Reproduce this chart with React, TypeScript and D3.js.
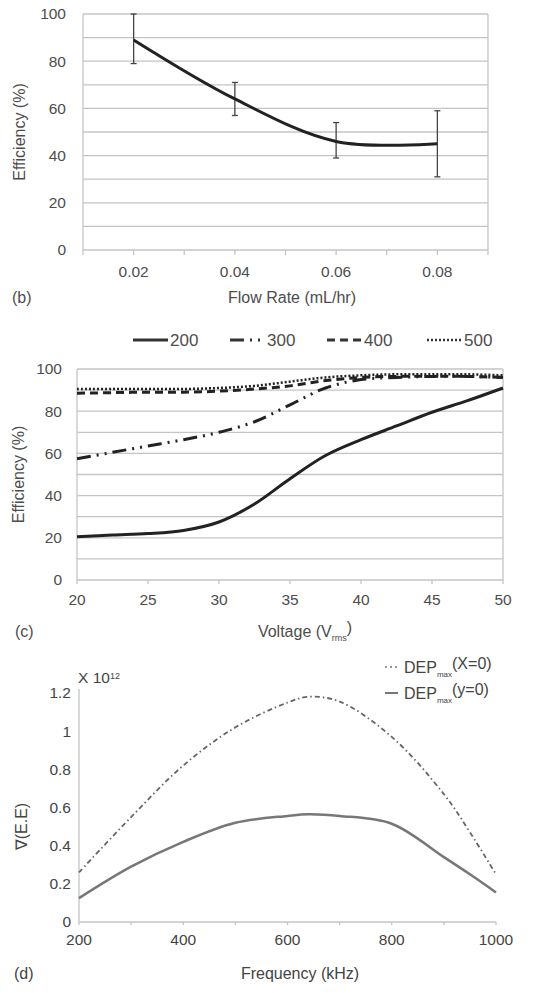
import React from 'react';
import * as d3 from 'd3';

// panel (b) flow rate vs efficiency
const flowRates = [0.02, 0.04, 0.06, 0.08];
const flowEff = [89, 64, 46, 45];
const flowLow = [79, 57, 39, 31];
const flowHigh = [100, 71, 54, 59];
const flowTicks = [0.02, 0.04, 0.06, 0.08];

// panel (c) voltage vs efficiency, four series
const voltages = [20, 22.5, 25, 27.5, 30, 32.5, 35, 37.5, 40, 42.5, 45, 47.5, 50];
const eff200 = [20.5, 21.3, 22, 23.5, 27.5, 36, 48, 59, 66.5, 73, 79.5, 85, 91];
const eff300 = [57.5, 60.5, 63.5, 66.5, 70, 75, 83, 91, 95, 96, 96.5, 96.5, 96];
const eff400 = [88.5, 88.8, 89, 89, 89.5, 90.5, 92, 94.5, 96, 96.5, 96.5, 96.5, 96];
const eff500 = [90.5, 90.5, 90.5, 90.5, 91, 92, 94, 96, 97, 97.5, 97.5, 97.5, 97];
const seriesNames = ['200', '300', '400', '500'];
const voltTicks = [20, 25, 30, 35, 40, 45, 50];

// panel (d) frequency vs grad(E.E)
const freqs = [200, 300, 400, 500, 600, 640, 700, 800, 900, 950, 1000];
const depX = [0.26, 0.55, 0.82, 1.02, 1.15, 1.18, 1.155, 0.97, 0.67, 0.47, 0.25];
const depY = [0.125, 0.29, 0.42, 0.52, 0.556, 0.565, 0.556, 0.515, 0.34, 0.25, 0.155];
const freqTicks = [200, 400, 600, 800, 1000];
const depTicks = [0, 0.2, 0.4, 0.6, 0.8, 1, 1.2];

const FONT = 'Arial, "Liberation Sans", sans-serif';
const TXT = '#4d4d4d';
const GRID = '#c4c4c4';
const TICK = 15.5;
const TITLE = 16;

function PanelB() {
  const x = d3.scaleLinear().domain([0.01, 0.09]).range([83, 488]);
  const y = d3.scaleLinear().domain([0, 100]).range([250, 14]);
  const line = d3.line<number>()
    .x((_, i) => x(flowRates[i]))
    .y(d => y(d))
    .curve(d3.curveCatmullRom.alpha(0.5));
  const grid = d3.range(0, 101, 10);
  return (
    <g fontFamily={FONT}>
      {grid.map(g => (
        <line key={g} x1={x(0.01)} x2={x(0.09)} y1={y(g)} y2={y(g)} stroke={GRID} strokeWidth={1.3} />
      ))}
      <line x1={x(0.01)} x2={x(0.01)} y1={y(100)} y2={y(0)} stroke={GRID} strokeWidth={1.3} />
      <line x1={x(0.09)} x2={x(0.09)} y1={y(100)} y2={y(0)} stroke={GRID} strokeWidth={1.3} />
      {d3.range(0.01, 0.0901, 0.01).map((t, i) => (
        <line key={i} x1={x(t)} x2={x(t)} y1={y(0)} y2={y(0) + 5} stroke={GRID} strokeWidth={1.3} />
      ))}
      {d3.range(0, 101, 20).map(t => (
        <text key={t} x={66} y={y(t)} dy="0.35em" textAnchor="end" fontSize={TICK} fill={TXT}>{t}</text>
      ))}
      {flowTicks.map(t => (
        <text key={t} x={x(t)} y={272} dy="0.35em" textAnchor="middle" fontSize={TICK} fill={TXT}>{t.toFixed(2)}</text>
      ))}
      <text transform={`translate(19,${y(50)}) rotate(-90)`} textAnchor="middle" dy="0.35em" fontSize={TITLE} fill={TXT}>Efficiency (%)</text>
      <text x={12} y={297} dy="0.35em" fontSize={TITLE} fill={TXT}>(b)</text>
      <text x={292} y={297} dy="0.35em" textAnchor="middle" fontSize={TITLE} fill={TXT}>Flow Rate (mL/hr)</text>
      {flowRates.map((f, i) => (
        <g key={f} stroke="#444" strokeWidth={1.3}>
          <line x1={x(f)} x2={x(f)} y1={y(flowLow[i])} y2={y(flowHigh[i])} />
          <line x1={x(f) - 3} x2={x(f) + 3} y1={y(flowLow[i])} y2={y(flowLow[i])} />
          <line x1={x(f) - 3} x2={x(f) + 3} y1={y(flowHigh[i])} y2={y(flowHigh[i])} />
        </g>
      ))}
      <path d={line(flowEff) || ''} fill="none" stroke="#222" strokeWidth={3} />
    </g>
  );
}

function PanelC() {
  const x = d3.scaleLinear().domain([20, 50]).range([77, 503]);
  const y = d3.scaleLinear().domain([0, 100]).range([580, 369]);
  const line = d3.line<number>()
    .x((_, i) => x(voltages[i]))
    .y(d => y(d))
    .curve(d3.curveCatmullRom.alpha(0.5));
  const series = [eff200, eff300, eff400, eff500];
  const dashes = ['', '14 6 2 6 2 6', '8 5', '2 2'];
  const widths = [3, 3, 3, 2.5];
  const legendX = [133, 230, 327, 427];
  return (
    <g fontFamily={FONT}>
      {d3.range(0, 101, 10).map(g => (
        <line key={g} x1={x(20)} x2={x(50)} y1={y(g)} y2={y(g)} stroke={GRID} strokeWidth={1.3} />
      ))}
      <line x1={x(20)} x2={x(20)} y1={y(100)} y2={y(0)} stroke={GRID} strokeWidth={1.3} />
      <line x1={x(50)} x2={x(50)} y1={y(100)} y2={y(0)} stroke={GRID} strokeWidth={1.3} />
      {voltTicks.map(t => (
        <line key={t} x1={x(t)} x2={x(t)} y1={y(0)} y2={y(0) + 4} stroke={GRID} strokeWidth={1.3} />
      ))}
      {d3.range(0, 101, 20).map(t => (
        <text key={t} x={62} y={y(t)} dy="0.35em" textAnchor="end" fontSize={TICK} fill={TXT}>{t}</text>
      ))}
      {voltTicks.map(t => (
        <text key={t} x={x(t)} y={600} dy="0.35em" textAnchor="middle" fontSize={TICK} fill={TXT}>{t}</text>
      ))}
      <text transform={`translate(18,${y(50)}) rotate(-90)`} textAnchor="middle" dy="0.35em" fontSize={TITLE} fill={TXT}>Efficiency (%)</text>
      <text x={15} y={631} dy="0.35em" fontSize={TITLE} fill={TXT}>(c)</text>
      <text x={305} y={631} dy="0.35em" textAnchor="middle" fontSize={TITLE} fill={TXT}>
        Voltage (V<tspan fontSize={9} dy="0.45em">rms</tspan><tspan dy="-0.45em">)</tspan>
      </text>
      {series.map((s, i) => (
        <path key={i} d={line(s) || ''} fill="none" stroke="#222" strokeWidth={widths[i]} strokeDasharray={dashes[i]} />
      ))}
      {seriesNames.map((n, i) => (
        <g key={n}>
          <line x1={legendX[i]} x2={legendX[i] + 35} y1={340} y2={340} stroke="#333" strokeWidth={widths[i]} strokeDasharray={dashes[i]} />
          <text x={legendX[i] + 37} y={340} dy="0.35em" fontSize={17} fill={TXT}>{n}</text>
        </g>
      ))}
    </g>
  );
}

function PanelD() {
  const x = d3.scaleLinear().domain([200, 1000]).range([79, 496]);
  const y = d3.scaleLinear().domain([0, 1.2]).range([922, 693]);
  const line = d3.line<number>()
    .x((_, i) => x(freqs[i]))
    .y(d => y(d))
    .curve(d3.curveCatmullRom.alpha(0.5));
  return (
    <g fontFamily={FONT}>
      <line x1={x(200)} x2={x(200)} y1={y(1.2) - 4} y2={y(0)} stroke={GRID} strokeWidth={1.3} />
      <line x1={x(200)} x2={x(1000)} y1={y(0)} y2={y(0)} stroke={GRID} strokeWidth={1.3} />
      {d3.range(200, 1001, 100).map(t => (
        <line key={t} x1={x(t)} x2={x(t)} y1={y(0)} y2={y(0) + 3} stroke={GRID} strokeWidth={1.3} />
      ))}
      {depTicks.map(t => (
        <text key={t} x={71} y={y(t)} dy="0.35em" textAnchor="end" fontSize={TICK} fill="#444">{t}</text>
      ))}
      {freqTicks.map(t => (
        <text key={t} x={x(t)} y={940} dy="0.35em" textAnchor="middle" fontSize={TICK} fill="#444">{t}</text>
      ))}
      <text x={78} y={678} dy="0.35em" fontSize={TICK} fill="#444">
        X 10<tspan fontSize={9} dy="-0.5em">12</tspan>
      </text>
      <text transform={`translate(21,${y(0.5)}) rotate(-90)`} textAnchor="middle" dy="0.35em" fontSize={TITLE} fill="#444">∇(E.E)</text>
      <text x={14} y={973} dy="0.35em" fontSize={TITLE} fill="#444">(d)</text>
      <text x={300} y={973} dy="0.35em" textAnchor="middle" fontSize={TITLE} fill="#444">Frequency (kHz)</text>
      <path d={line(depX) || ''} fill="none" stroke="#666" strokeWidth={1.8} strokeDasharray="5 3 1.5 3" />
      <path d={line(depY) || ''} fill="none" stroke="#777" strokeWidth={2.5} />
      <line x1={385} x2={400} y1={667} y2={667} stroke="#777" strokeWidth={1.5} strokeDasharray="2 3" />
      <text x={404} y={667} dy="0.35em" fontSize={TITLE} fill="#444">
        DEP<tspan fontSize={8} dy="0.5em">max</tspan><tspan dy="-0.5em">(X=0)</tspan>
      </text>
      <line x1={385} x2={398} y1={693} y2={693} stroke="#777" strokeWidth={2} />
      <text x={404} y={693} dy="0.35em" fontSize={TITLE} fill="#444">
        DEP<tspan fontSize={8} dy="0.5em">max</tspan><tspan dy="-0.5em">(y=0)</tspan>
      </text>
    </g>
  );
}

export default function App() {
  return (
    <div style={{ position: 'absolute', left: 0, top: 0 }}>
      <svg width={540} height={993} style={{ display: 'block', background: '#fff' }}>
        <PanelB />
        <PanelC />
        <PanelD />
      </svg>
    </div>
  );
}
